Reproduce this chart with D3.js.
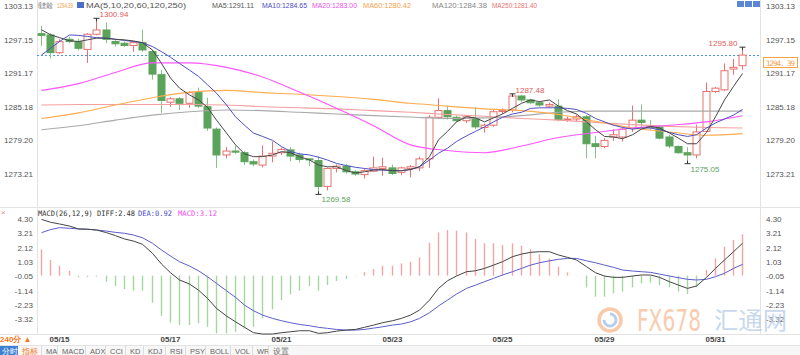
<!DOCTYPE html>
<html>
<head>
<meta charset="utf-8">
<script src="https://cdn.jsdelivr.net/npm/d3@7/dist/d3.min.js"></script>
<style>
  body { margin: 0; background: #fff; }
  svg { display: block; font-family: "Liberation Sans", Arial, sans-serif; }
</style>
</head>
<body>
<svg id="chart" width="800" height="355"></svg>
<script>
// 240-minute gold candles, 05/15 - 05/31
const opens = [1298.2,1297.97,1294.82,1297.2,1296.78,1295.4,1298.1,1298.86,1296.8,1296.5,
  1296.1,1296.6,1295.0,1290.9,1286.0,1286.6,1285.8,1287.7,1285.2,1281.2,
  1276.6,1277.3,1277.0,1275.4,1274.8,1276.4,1277.0,1277.5,1276.6,1275.9,
  1275.6,1271.0,1274.2,1274.6,1273.6,1273.1,1273.7,1274.2,1274.3,1273.5,
  1274.2,1274.3,1275.9,1283.3,1284.5,1283.3,1282.7,1283.1,1281.5,1281.9,
  1284.4,1284.6,1287.1,1286.4,1285.9,1285.3,1285.3,1282.9,1283.0,1283.4,
  1278.6,1278.1,1279.8,1279.8,1281.3,1282.8,1281.8,1281.6,1279.8,1278.1,
  1277.0,1276.6,1280.8,1287.9,1288.2,1291.9,1292.5];
const highs = [1299.6,1298.3,1297.2,1297.6,1297.3,1298.3,1300.94,1300.2,1297.2,1296.8,
  1296.8,1298.9,1295.3,1291.7,1286.9,1286.9,1288.0,1288.6,1286.8,1281.5,
  1278.0,1278.3,1277.3,1275.8,1278.3,1279.0,1277.9,1278.0,1277.0,1276.0,
  1276.4,1274.4,1274.9,1275.0,1273.9,1274.2,1276.3,1276.1,1274.9,1274.5,
  1274.8,1276.3,1283.7,1286.7,1285.4,1283.6,1283.7,1285.1,1282.2,1284.6,
  1284.9,1287.48,1287.3,1286.6,1286.1,1285.9,1286.5,1283.4,1283.8,1283.7,
  1280.0,1279.6,1281.2,1281.5,1285.4,1285.6,1282.8,1281.9,1280.2,1278.3,
  1278.0,1282.0,1289.5,1288.7,1292.9,1293.7,1295.80];
const lows = [1296.0,1293.8,1294.6,1296.5,1295.2,1293.0,1297.9,1296.5,1295.9,1295.8,
  1295.0,1295.0,1290.0,1284.1,1285.2,1284.6,1285.0,1285.0,1280.9,1274.3,
  1276.0,1276.8,1274.8,1274.6,1274.4,1275.3,1276.6,1275.5,1275.3,1274.6,
  1269.58,1270.3,1273.5,1273.3,1272.9,1272.4,1273.6,1272.9,1273.0,1273.0,
  1272.6,1273.7,1274.3,1283.0,1282.9,1282.4,1282.3,1281.2,1280.6,1281.6,
  1283.9,1284.2,1286.0,1285.7,1285.2,1285.0,1282.6,1282.5,1282.6,1276.0,
  1276.0,1277.8,1279.1,1279.0,1280.7,1281.5,1281.1,1279.4,1277.8,1276.8,
  1275.05,1276.0,1280.7,1287.6,1288.0,1290.9,1291.8];
const closes = [1297.9,1294.82,1296.78,1296.8,1295.6,1298.1,1298.86,1297.2,1296.4,1296.1,
  1296.6,1295.3,1291.0,1286.3,1286.6,1285.8,1287.7,1285.3,1281.4,1276.6,
  1277.3,1277.1,1275.4,1275.0,1276.4,1276.9,1277.6,1276.4,1275.8,1275.8,
  1270.98,1274.2,1274.6,1273.6,1273.2,1273.8,1274.3,1274.5,1273.3,1274.3,
  1274.5,1275.9,1283.3,1284.5,1283.4,1282.7,1283.4,1281.6,1281.9,1284.3,
  1284.5,1287.1,1286.4,1285.9,1285.5,1285.6,1282.9,1283.0,1283.4,1278.6,
  1278.1,1279.2,1280.2,1281.2,1282.8,1282.4,1281.5,1279.6,1278.2,1277.0,
  1276.6,1280.7,1287.9,1288.5,1291.6,1292.2,1294.39];

// short moving averages, one value per candle
const ma5 = [1298.9,1298.0,1297.5,1296.95,1296.8,1297.1,1297.4,1297.4,1297.2,1297.1,
  1296.9,1296.6,1295.3,1292.9,1290.3,1288.5,1287.3,1286.4,1285.1,1282.8,
  1280.5,1278.4,1276.8,1276.3,1276.3,1276.6,1277.2,1277.0,1276.3,1275.7,
  1274.8,1274.5,1274.5,1273.8,1273.4,1273.6,1273.9,1274.0,1273.8,1273.8,
  1274.0,1274.5,1276.3,1279.3,1280.8,1282.5,1283.4,1283.2,1282.5,1283.2,
  1283.9,1284.9,1285.8,1286.4,1286.1,1286.4,1285.3,1284.5,1283.9,1282.5,
  1281.1,1279.9,1279.8,1279.5,1280.2,1281.2,1281.7,1281.4,1280.5,1279.6,
  1278.6,1278.6,1280.6,1283.4,1286.4,1288.8,1291.1];
const ma10 = [1294.4,1295.6,1296.8,1297.97,1297.9,1297.7,1297.5,1297.4,1297.2,1297.0,
  1296.8,1296.6,1295.9,1295.0,1294.0,1292.9,1291.7,1290.6,1289.1,1287.6,
  1285.5,1283.4,1281.9,1280.5,1279.9,1279.2,1278.1,1277.2,1276.8,1276.6,
  1276.2,1275.7,1275.1,1274.7,1274.4,1274.2,1274.0,1273.9,1273.8,1273.8,
  1274.0,1274.5,1275.7,1276.9,1277.8,1279.0,1280.0,1280.8,1281.6,1282.5,
  1283.3,1283.9,1284.2,1284.9,1285.0,1285.0,1285.0,1284.9,1284.7,1284.0,
  1283.1,1282.5,1281.9,1281.5,1281.2,1281.4,1281.4,1281.1,1280.6,1280.2,
  1279.9,1280.2,1281.4,1282.3,1283.0,1283.7,1284.7];

// long moving averages, read every 4th candle
const maSampleIdx = [0,4,8,12,16,20,24,28,32,36,40,44,48,52,56,60,64,68,72,76];
const ma20 = [1288.1,1289.3,1291.3,1293.0,1293.0,1292.2,1290.5,1287.8,1284.9,1281.8,
  1278.4,1277.4,1277.0,1278.2,1279.7,1280.6,1281.4,1281.9,1282.5,1283.6];
const ma60 = [1283.1,1284.1,1285.5,1286.8,1287.8,1288.1,1287.7,1287.4,1287.0,1286.5,
  1285.8,1285.3,1284.8,1284.5,1283.8,1282.6,1281.4,1280.7,1280.1,1280.4];
const ma120 = [1281.1,1281.8,1282.8,1283.7,1284.3,1284.6,1284.5,1284.2,1283.9,1283.6,
  1283.35,1283.1,1283.2,1283.6,1284.2,1284.4,1284.4,1284.4,1284.4,1284.4];
const ma250 = [1285.5,1285.6,1285.6,1285.6,1285.6,1285.5,1285.2,1285.0,1284.8,1284.5,
  1284.2,1283.8,1283.5,1283.1,1282.8,1282.4,1282.0,1281.7,1281.5,1281.4];

// MACD(26,12,9)
const diff = [4.28,4.06,3.93,3.77,3.55,3.53,3.47,3.27,3.04,2.79,
  2.63,2.38,1.7,0.88,0.22,-0.33,-0.64,-1.1,-1.73,-2.49,
  -3.07,-3.51,-3.93,-4.34,-4.44,-4.44,-4.34,-4.27,-4.19,-4.19,
  -4.39,-4.34,-4.22,-4.14,-4.09,-3.93,-3.76,-3.58,-3.43,-3.25,
  -3.0,-2.62,-1.86,-0.97,-0.39,-0.03,0.3,0.37,0.55,0.8,
  1.06,1.44,1.64,1.77,1.82,1.82,1.57,1.39,1.19,0.68,
  0.22,-0.03,-0.13,-0.13,-0.03,0.05,0.05,-0.13,-0.46,-0.72,
  -0.97,-0.79,-0.13,0.55,1.19,1.82,2.46];
const dea = [3.27,3.5,3.65,3.6,3.55,3.53,3.47,3.39,3.29,3.22,
  3.09,2.88,2.46,1.95,1.49,1.06,0.73,0.37,-0.08,-0.59,
  -1.15,-1.65,-2.24,-2.67,-3.0,-3.25,-3.43,-3.58,-3.71,-3.81,
  -3.93,-4.01,-4.09,-4.14,-4.14,-4.09,-3.99,-3.89,-3.76,-3.68,
  -3.51,-3.25,-2.82,-2.31,-1.86,-1.4,-0.97,-0.72,-0.46,-0.21,
  0.05,0.3,0.55,0.8,0.98,1.13,1.24,1.31,1.31,1.13,
  0.98,0.8,0.63,0.43,0.35,0.3,0.25,0.12,-0.03,-0.16,
  -0.28,-0.33,-0.28,-0.08,0.18,0.55,0.86];
const macdHist = [2.0,1.19,0.75,0.37,-0.13,-0.1,-0.08,-0.46,-0.79,-1.02,
  -1.15,-1.15,-2.06,-3.05,-3.58,-3.76,-3.76,-3.63,-3.89,-4.39,
  -4.39,-4.27,-4.01,-3.89,-3.25,-2.57,-1.86,-1.43,-1.15,-0.79,
  -1.15,-0.72,-0.41,-0.26,0.02,0.27,0.5,0.75,0.75,0.93,
  1.06,1.39,2.5,3.29,3.47,3.42,3.29,2.79,2.46,2.46,
  2.33,2.46,2.28,2.0,1.64,1.31,0.68,0.25,0.02,-0.89,
  -1.6,-1.6,-1.35,-1.22,-0.89,-0.59,-0.53,-0.72,-0.89,-1.22,
  -1.4,-0.89,0.43,1.31,2.2,2.71,3.14];

const priceTicks = [1303.13, 1297.15, 1291.17, 1285.18, 1279.20, 1273.21];
const macdTicks = [4.30, 3.21, 2.12, 1.03, -0.05, -1.14, -2.23, -3.32];
const dateIdx = [2, 14, 26, 38, 50, 61, 73];
const dateLabels = ["05/15", "05/17", "05/21", "05/23", "05/25", "05/29", "05/31"];
const highMarks = [6, 51, 76];
const lowMarks = [30, 70];
const lastPrice = 1294.39;
const toolbarItems = ["MA", "MACD", "ADX", "CCI", "KD", "KDJ", "RSI", "PSY", "BOLL", "VOL", "WR", "设置"];

const RED = "#e8706e";
const GREEN = "#5ba35b";
const plotLeft = 37, plotRight = 760;

const svg = d3.select("#chart");

const x = d3.scaleBand()
  .domain(d3.range(closes.length))
  .range([35.2, 748.2])
  .padding(0.25);
const cx = i => Math.round(x(i) + x.bandwidth() / 2) + 0.5;

const y = d3.scaleLinear().domain([1273.21, 1303.13]).range([174, 6]);
const ym = d3.scaleLinear().domain([-3.32, 4.30]).range([319.3, 219.1]);

// frame lines
const frame = svg.append("g").attr("stroke", "#e3e3e3").attr("shape-rendering", "crispEdges");
frame.append("line").attr("x1", plotLeft).attr("x2", plotLeft).attr("y1", 0).attr("y2", 334);
frame.append("line").attr("x1", plotRight).attr("x2", plotRight).attr("y1", 0).attr("y2", 334);
frame.append("line").attr("x1", 0).attr("x2", 800).attr("y1", 207.5).attr("y2", 207.5);
frame.append("line").attr("x1", 0).attr("x2", 800).attr("y1", 334.5).attr("y2", 334.5);
frame.append("line").attr("x1", 0).attr("x2", 800).attr("y1", 345.5).attr("y2", 345.5);

// price axes
const axisText = (g, ticks, scale, fmt) => {
  g.selectAll(".l").data(ticks).join("text")
    .attr("x", 33).attr("y", d => scale(d) + 3)
    .attr("text-anchor", "end").text(fmt);
  g.selectAll(".r").data(ticks).join("text")
    .attr("x", 766).attr("y", d => scale(d) + 3)
    .attr("text-anchor", "start").text(fmt);
};
const axes = svg.append("g").attr("fill", "#555").style("font-size", "8px");
axisText(axes.append("g"), priceTicks, y, d => d.toFixed(2));
axisText(axes.append("g"), macdTicks, ym, d => d.toFixed(2));

// header of main chart
const header = svg.append("g").style("font-size", "6.5px");
const headerItems = [
  { x: 38, w: 15, t: "现货黄金", c: "#555" },
  { x: 57, w: 16, t: "1294.39", c: "#f29b3c" },
  { x: 86, w: 100, t: "MA(5,10,20,60,120,250)", c: "#555" },
  { x: 212, w: 42, t: "MA5:1291.11", c: "#555" },
  { x: 262, w: 45, t: "MA10:1284.65", c: "#4b4bc8" },
  { x: 312, w: 45, t: "MA20:1283.00", c: "#f050f0" },
  { x: 363, w: 48, t: "MA60:1280.42", c: "#f7a14a" },
  { x: 432, w: 55, t: "MA120:1284.38", c: "#888" },
  { x: 492, w: 45, t: "MA250:1281.40", c: "#ea6f6f" }
];
header.selectAll("text").data(headerItems).join("text")
  .attr("x", d => d.x).attr("y", 8)
  .attr("textLength", d => d.w).attr("lengthAdjust", "spacingAndGlyphs")
  .attr("fill", d => d.c).text(d => d.t);
header.append("rect").attr("x", 77).attr("y", 2).attr("width", 7).attr("height", 6)
  .attr("fill", "#4b6fc8");
svg.append("g").selectAll("rect").data([0, 1, 2]).join("rect")
  .attr("x", d => 737 + d * 8).attr("y", 1).attr("width", 7).attr("height", 6)
  .attr("fill", "#5b86d6");

// main plot
const main = svg.append("g");
main.append("defs").append("clipPath").attr("id", "clipMain")
  .append("rect").attr("x", plotLeft).attr("y", 0).attr("width", plotRight - plotLeft).attr("height", 206);

const maLayer = main.append("g").attr("clip-path", "url(#clipMain)").attr("fill", "none");
const sampled = [
  { v: ma250, c: "#f4a0a0" },
  { v: ma120, c: "#a9a9a9" },
  { v: ma60, c: "#ffab4f" },
  { v: ma20, c: "#ff55ff" }
];
sampled.forEach(s => {
  maLayer.append("path")
    .datum(s.v)
    .attr("stroke", s.c).attr("stroke-width", 1.1)
    .attr("d", d3.line().curve(d3.curveMonotoneX)
      .x((d, k) => cx(maSampleIdx[k])).y(d => y(d)));
});

// current price line
main.append("line")
  .attr("x1", plotLeft).attr("x2", plotRight)
  .attr("y1", Math.round(y(lastPrice)) + 0.5).attr("y2", Math.round(y(lastPrice)) + 0.5)
  .attr("stroke", "#4f93e8").attr("stroke-dasharray", "2,2");

// candles
const candles = main.append("g").selectAll("g").data(closes).join("g");
candles.append("line")
  .attr("x1", (d, i) => cx(i)).attr("x2", (d, i) => cx(i))
  .attr("y1", (d, i) => y(highs[i])).attr("y2", (d, i) => y(lows[i]))
  .attr("stroke", (d, i) => d >= opens[i] ? RED : "#86c486");
candles.append("rect")
  .attr("x", (d, i) => cx(i) - 3.5)
  .attr("width", 7)
  .attr("y", (d, i) => y(Math.max(d, opens[i])))
  .attr("height", (d, i) => Math.max(1, Math.abs(y(d) - y(opens[i]))))
  .attr("fill", (d, i) => d >= opens[i] ? "#fff" : GREEN)
  .attr("stroke", (d, i) => d >= opens[i] ? RED : GREEN)
  .attr("stroke-width", 1);

// short MAs on top of candles
[{ v: ma10, c: "#5050c8" }, { v: ma5, c: "#474747" }].forEach(s => {
  maLayer.append("path")
    .datum(s.v)
    .attr("stroke", s.c).attr("stroke-width", 1)
    .attr("d", d3.line().x((d, i) => cx(i)).y(d => y(d)));
});
maLayer.raise();

// high / low markers
const marks = main.append("g").style("font-size", "8px");
highMarks.forEach(i => {
  const yy = y(highs[i]);
  marks.append("path").attr("d", `M${cx(i) - 3},${yy}H${cx(i) + 3}M${cx(i)},${yy}V${yy + 3}`)
    .attr("stroke", "#333").attr("fill", "none");
  const last = i === closes.length - 1;
  marks.append("text")
    .attr("x", last ? cx(i) - 5 : cx(i) + 3)
    .attr("y", yy - 1)
    .attr("text-anchor", last ? "end" : "start")
    .attr("fill", "#e05a58").text(highs[i].toFixed(2));
});
lowMarks.forEach(i => {
  const yy = y(lows[i]);
  marks.append("path").attr("d", `M${cx(i) - 3},${yy}H${cx(i) + 3}M${cx(i)},${yy}V${yy - 3}`)
    .attr("stroke", "#333").attr("fill", "none");
  marks.append("text")
    .attr("x", cx(i) + 3).attr("y", yy + 8)
    .attr("fill", "#5ba35b").text(lows[i].toFixed(2));
});

// last price tag
const tagY = Math.round(y(lastPrice));
svg.append("rect").attr("x", 763.5).attr("y", tagY + 2.5).attr("width", 34).attr("height", 10)
  .attr("fill", "#fff").attr("stroke", "#f7a14a");
svg.append("text").attr("x", 766).attr("y", tagY + 10.5)
  .attr("fill", "#f7a14a").style("font-family", "'DejaVu Sans Mono', monospace")
  .style("font-size", "7.5px").attr("textLength", 29).text("1294. 39");

// MACD panel
const macdG = svg.append("g");
macdG.append("text").attr("x", 1).attr("y", 215).attr("fill", "#f08a8a")
  .style("font-size", "8px").text("×");
const macdHead = macdG.append("g")
  .style("font-family", "'DejaVu Sans Mono', monospace").style("font-size", "7.5px");
[
  { x: 38, w: 97, t: "MACD(26,12,9) DIFF:2.48", c: "#333" },
  { x: 138, w: 34, t: "DEA:0.92", c: "#4b4bc8" },
  { x: 178, w: 39, t: "MACD:3.12", c: "#f050f0" }
].forEach(d => {
  macdHead.append("text").attr("x", d.x).attr("y", 215.5)
    .attr("textLength", d.w).attr("lengthAdjust", "spacingAndGlyphs")
    .attr("fill", d.c).text(d.t);
});

macdG.append("g").selectAll("line").data(macdHist).join("line")
  .attr("x1", (d, i) => cx(i)).attr("x2", (d, i) => cx(i))
  .attr("y1", ym(0)).attr("y2", d => ym(d))
  .attr("stroke", d => d >= 0 ? "#f2a4a4" : "#a6d6a0")
  .attr("stroke-width", 1.4);

macdG.append("path").datum(dea)
  .attr("fill", "none").attr("stroke", "#5c5ccc").attr("stroke-width", 1)
  .attr("d", d3.line().x((d, i) => cx(i)).y(d => ym(d)));
macdG.append("path").datum(diff)
  .attr("fill", "none").attr("stroke", "#444").attr("stroke-width", 1)
  .attr("d", d3.line().x((d, i) => cx(i)).y(d => ym(d)));

// watermark
const wm = svg.append("g").attr("opacity", 0.75);
wm.append("circle").attr("cx", 610).attr("cy", 320).attr("r", 11)
  .attr("fill", "none").attr("stroke", "#f6b98e").attr("stroke-width", 3.5);
wm.append("path").attr("d", "M604,320 a6,6 0 1,0 6,-6").attr("fill", "none")
  .attr("stroke", "#9fc0e6").attr("stroke-width", 3);
wm.append("text").attr("x", 637).attr("y", 331).attr("fill", "#f7bb94")
  .style("font-family", "'DejaVu Sans', sans-serif").style("font-size", "30px")
  .attr("textLength", 64).attr("lengthAdjust", "spacingAndGlyphs").text("FX678");
wm.append("text").attr("x", 714).attr("y", 329).attr("fill", "#b6cbe8")
  .style("font-family", "'Noto Sans CJK SC', sans-serif").style("font-size", "24px")
  .attr("textLength", 73).attr("lengthAdjust", "spacingAndGlyphs").text("汇通网");

// date labels
svg.append("g").attr("fill", "#444").style("font-size", "8px").style("font-weight", "bold")
  .selectAll("text").data(dateIdx).join("text")
  .attr("x", i => cx(i)).attr("y", 341.5).attr("text-anchor", "middle")
  .text((d, k) => dateLabels[k]);
svg.append("text").attr("x", 0).attr("y", 341.5).attr("fill", "#f07a20")
  .style("font-size", "8px").style("font-weight", "bold").text("240分 ▲");

// toolbar
const bar = svg.append("g").style("font-size", "7.5px");
bar.append("rect").attr("x", 0).attr("y", 346).attr("width", 800).attr("height", 9).attr("fill", "#f7f7f7");
bar.append("rect").attr("x", 0).attr("y", 346).attr("width", 18).attr("height", 9).attr("fill", "#3d7fd6");
bar.append("text").attr("x", 1.5).attr("y", 354).attr("fill", "#fff").text("分时");
bar.append("text").attr("x", 22).attr("y", 354).attr("fill", "#f07a20").text("指标");
const itemX = [46, 62, 90, 110, 130, 148, 170, 190, 210, 235, 257, 273];
bar.selectAll(".it").data(toolbarItems).join("text")
  .attr("x", (d, k) => itemX[k]).attr("y", 354).attr("fill", "#666").text(d => d);
bar.selectAll(".sep").data(itemX).join("line")
  .attr("x1", d => d - 4.5).attr("x2", d => d - 4.5).attr("y1", 346).attr("y2", 355)
  .attr("stroke", "#ddd");
</script>
</body>
</html>
